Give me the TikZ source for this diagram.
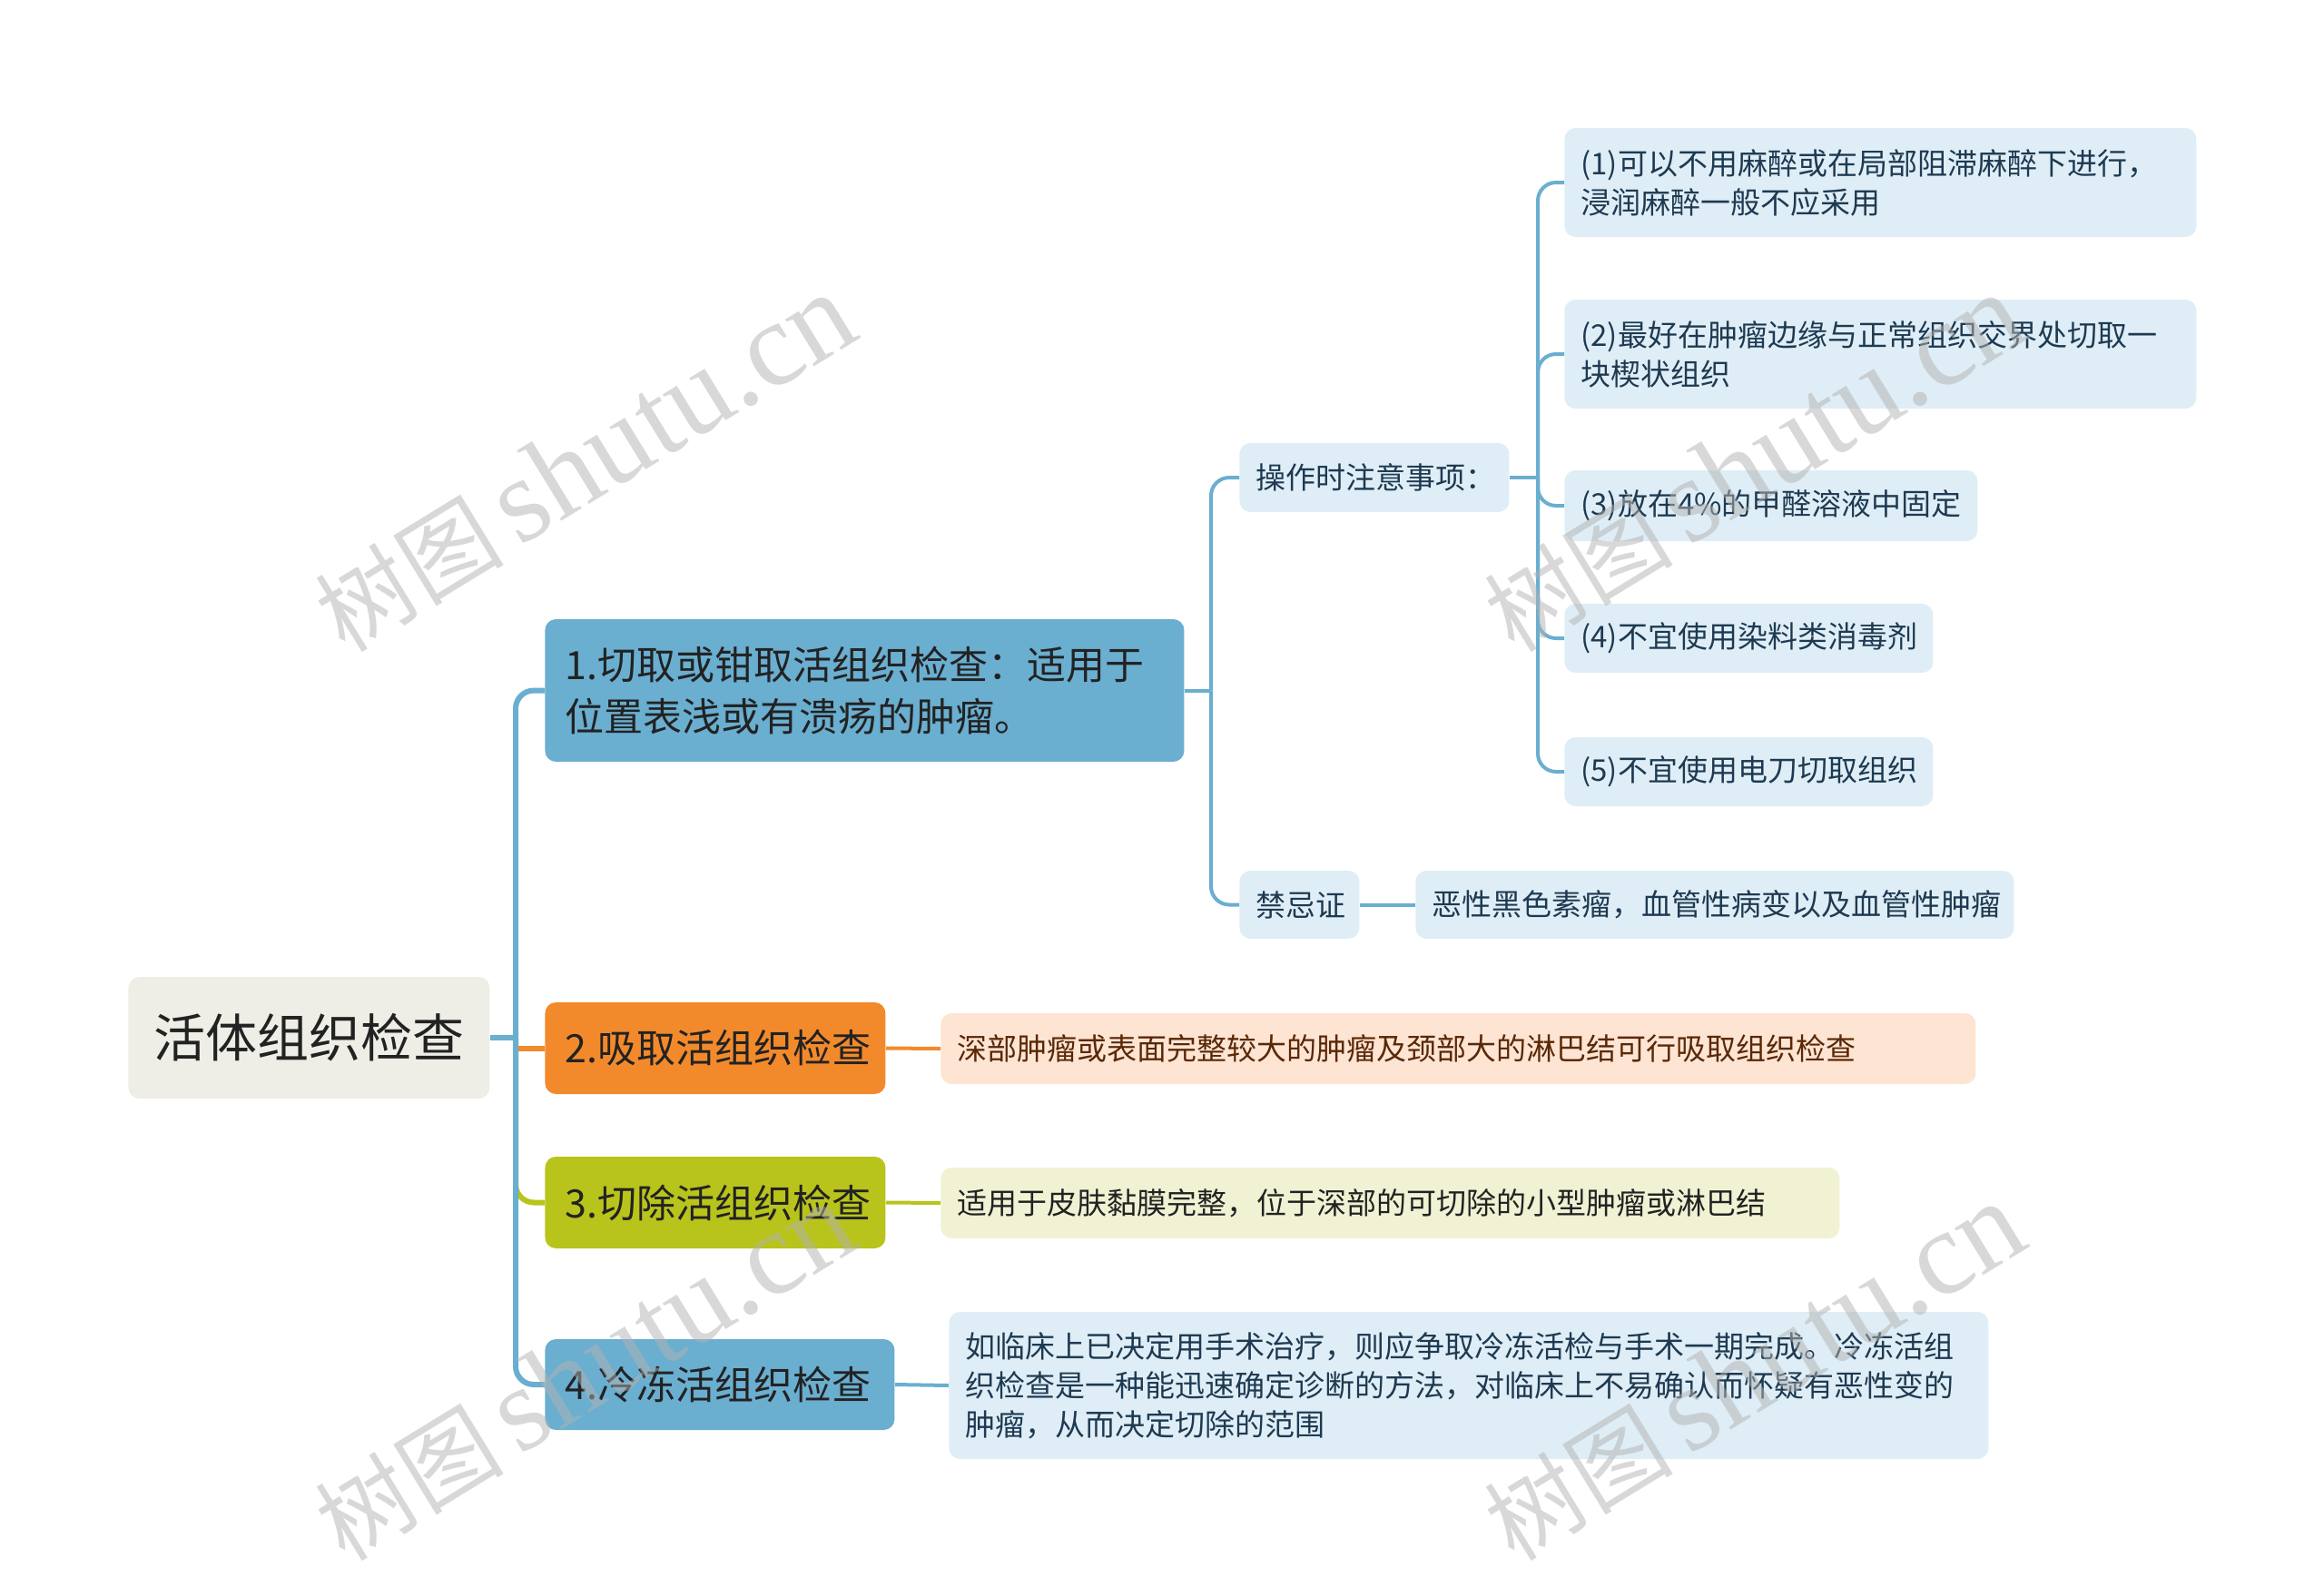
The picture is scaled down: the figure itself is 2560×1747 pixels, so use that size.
\documentclass[tikz,border=0pt]{standalone}
\usepackage{fontspec}
\setmainfont{Noto Sans CJK SC}
\newfontfamily\wmcjk{Noto Sans CJK SC}
\newfontfamily\wmlat{Liberation Serif}
\definecolor{rootfill}{HTML}{EEEEE6}
\definecolor{mblue}{HTML}{6AAED0}
\definecolor{morange}{HTML}{F28A2C}
\definecolor{mgreen}{HTML}{B8C41B}
\definecolor{lblue}{HTML}{DFEEF6}
\definecolor{lorange}{HTML}{FDE4D3}
\definecolor{lgreen}{HTML}{F0F2D3}
\definecolor{tnavy}{HTML}{1E3A52}
\definecolor{tbrown}{HTML}{5A2806}
\definecolor{tdark}{HTML}{222222}
\tikzset{
  rootbox/.style={anchor=west, fill=rootfill, rounded corners=6pt, text=tdark,
    font=\fontsize{28.5pt}{34pt}\selectfont, minimum width=199pt, minimum height=67pt,
    inner sep=0pt, align=center},
  mainbox/.style={anchor=west, rounded corners=6pt, text=tdark, align=left,
    font=\fontsize{21.5pt}{28.5pt}\selectfont, inner xsep=11pt, inner ysep=0pt},
  leafbox/.style={anchor=west, rounded corners=6pt, align=left,
    font=\fontsize{16.5pt}{21.5pt}\selectfont, inner xsep=9pt, inner ysep=0pt},
  bleaf/.style={leafbox, fill=lblue, text=tnavy},
  oleafbox/.style={leafbox, fill=lorange, text=tbrown},
  gleafbox/.style={leafbox, fill=lgreen, text=tdark},
  thick1/.style={line width=3pt},
  thick2/.style={line width=2pt},
  wmark/.style={rotate=31.5, text=black!30, opacity=0.5, inner sep=0pt},
}
\newcommand\wmtext{\wmcjk\fontsize{52pt}{52pt}\selectfont 树图\,\wmlat\fontsize{66pt}{66pt}\selectfont shutu.cn}
\begin{document}
\begin{tikzpicture}[x=0.5pt, y=-0.5pt]
\useasboundingbox (0,0) rectangle (2560,1747);

% root and main branches
\node[rootbox] (root) at (141,1143) {活体组织检查};
\node[mainbox, fill=mblue, text width=330pt, minimum height=78.5pt] (b1) at (600,760.5)
  {1.切取或钳取活组织检查：适用于\\位置表浅或有溃疡的肿瘤。};
\node[mainbox, fill=morange, text width=165.5pt, minimum height=50.5pt] (b2) at (600,1154.5) {2.吸取活组织检查};
\node[mainbox, fill=mgreen, text width=165.5pt, minimum height=50.5pt] (b3) at (600,1324.5) {3.切除活组织检查};
\node[mainbox, fill=mblue, text width=170.5pt, minimum height=50pt] (b4) at (600,1525) {4.冷冻活组织检查};

% level 2 under b1
\node[bleaf, text width=130.5pt, minimum height=38pt] (op) at (1365,526) {操作时注意事项：};
\node[bleaf, text width=48pt, minimum height=37.5pt] (jj) at (1365,996.5) {禁忌证};
\node[bleaf, text width=311.5pt, minimum height=37.5pt] (jjl) at (1559,996.5) {恶性黑色素瘤，血管性病变以及血管性肿瘤};

% level 3 leaves
\node[bleaf, text width=330pt, minimum height=60pt] (l1) at (1723,201) {(1)可以不用麻醉或在局部阻滞麻醉下进行，\\浸润麻醉一般不应采用};
\node[bleaf, text width=330pt, minimum height=60pt] (l2) at (1723,390) {(2)最好在肿瘤边缘与正常组织交界处切取一\\块楔状组织};
\node[bleaf, text width=209.5pt, minimum height=39pt] (l3) at (1723,557) {(3)放在4\%的甲醛溶液中固定};
\node[bleaf, text width=185pt, minimum height=38pt] (l4) at (1723,703) {(4)不宜使用染料类消毒剂};
\node[bleaf, text width=185pt, minimum height=38pt] (l5) at (1723,850) {(5)不宜使用电刀切取组织};

% leaves of b2, b3, b4
\node[oleafbox, text width=552pt, minimum height=39pt] (ol) at (1036,1155) {深部肿瘤或表面完整较大的肿瘤及颈部大的淋巴结可行吸取组织检查};
\node[gleafbox, text width=477pt, minimum height=39pt] (gl) at (1036,1325) {适用于皮肤黏膜完整，位于深部的可切除的小型肿瘤或淋巴结};
\node[bleaf, text width=554.5pt, minimum height=81pt] (fl) at (1045,1526)
  {如临床上已决定用手术治疗，则应争取冷冻活检与手术一期完成。冷冻活组\\织检查是一种能迅速确定诊断的方法，对临床上不易确认而怀疑有恶性变的\\肿瘤，从而决定切除的范围};

% spine coordinates
\coordinate (sp) at (568,1143);
\coordinate (sp2) at (1334,760.5);
\coordinate (sp3) at (1694,526);

% level-1 connectors
\draw[thick1, mgreen, rounded corners=10pt] (sp) |- (b3.west);
\draw[thick1, morange] (sp |- b2.west) -- (b2.west);
\draw[thick1, mblue] (root.east) -- (sp);
\draw[thick1, mblue, rounded corners=10pt] (sp) |- (b1.west);
\draw[thick1, mblue, rounded corners=10pt] (sp) |- (b4.west);

% level-2 connectors
\draw[thick2, mblue] (b1.east) -- (sp2);
\draw[thick2, mblue, rounded corners=10pt] (sp2) |- (op.west);
\draw[thick2, mblue, rounded corners=10pt] (sp2) |- (jj.west);
\draw[thick2, mblue] (jj.east) -- (jjl.west);

% level-3 connectors
\draw[thick2, mblue] (op.east) -- (sp3);
\foreach \n in {l1,l2,l3,l4,l5}
  \draw[thick2, mblue, rounded corners=10pt] (sp3) |- (\n.west);

% leaf connectors of b2..b4
\draw[thick2, morange] (b2.east) -- (ol.west);
\draw[thick2, mgreen] (b3.east) -- (gl.west);
\draw[thick2, mblue] (b4.east) -- (fl.west);

% watermarks
\node[wmark] (w1) at (644,510) {\wmtext};
\node[wmark] (w2) at (1932,510) {\wmtext};
\node[wmark] (w3) at (644,1511) {\wmtext};
\node[wmark] (w4) at (1932,1511) {\wmtext};
\end{tikzpicture}
\end{document}
